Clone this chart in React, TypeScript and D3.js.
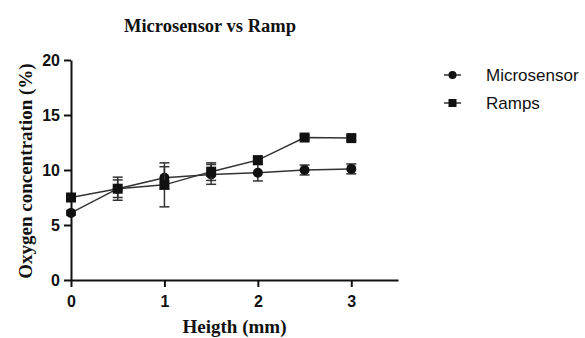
import { useEffect, useRef } from "react";
import * as d3 from "d3";

const heights = [0, 0.5, 1, 1.5, 2, 2.5, 3];
const microsensor = [6.1, 8.3, 9.3, 9.6, 9.75, 10.0, 10.1];
const microsensorErr = [0.2, 0.8, 1.0, 0.9, 0.75, 0.45, 0.45];
const ramps = [7.5, 8.3, 8.65, 9.85, 10.9, 12.95, 12.9];
const rampsErr = [0.2, 1.05, 2.0, 0.8, 0.2, 0.2, 0.2];
const yTicks = [0, 5, 10, 15, 20];
const xTicks = [0, 1, 2, 3];

const W = 585;
const H = 338;
const MARGIN = { top: 60, right: 187, bottom: 58, left: 71 };

interface Pt {
  x: number;
  y: number;
  e: number;
}

export default function App() {
  const svgRef = useRef<SVGSVGElement>(null);

  useEffect(() => {
    if (!svgRef.current) return;
    const svg = d3.select(svgRef.current);
    svg.selectAll("*").remove();

    const innerW = W - MARGIN.left - MARGIN.right;
    const innerH = H - MARGIN.top - MARGIN.bottom;

    const x = d3.scaleLinear().domain([0, 3.5]).range([0, innerW]);
    const y = d3.scaleLinear().domain([0, 20]).range([innerH, 0]);

    svg
      .append("rect")
      .attr("width", W)
      .attr("height", H)
      .attr("fill", "#fff");

    // Title
    svg
      .append("text")
      .attr("x", 210)
      .attr("y", 32)
      .attr("text-anchor", "middle")
      .attr("font-family", "'Liberation Serif', 'Times New Roman', serif")
      .attr("font-weight", "bold")
      .attr("font-size", "18.5px")
      .attr("fill", "#111")
      .text("Microsensor vs Ramp");

    const g = svg
      .append("g")
      .attr("transform", `translate(${MARGIN.left},${MARGIN.top})`);

    const tickFont = (sel: any) =>
      sel
        .selectAll(".tick text")
        .attr("fill", "#111")
        .attr("font-family", "'Liberation Sans', Arial, sans-serif")
        .attr("font-weight", "bold")
        .attr("font-size", "16px");

    // X axis
    g.append("g")
      .attr("transform", `translate(0,${innerH})`)
      .call(
        d3
          .axisBottom(x)
          .tickValues(xTicks)
          .tickFormat(d3.format("d"))
          .tickSize(7)
          .tickSizeOuter(0)
          .tickPadding(9)
      )
      .call((sel) => sel.select(".domain").attr("stroke", "#111").attr("stroke-width", 2))
      .call((sel) => sel.selectAll(".tick line").attr("stroke", "#111").attr("stroke-width", 2))
      .call(tickFont);

    // Y axis
    g.append("g")
      .call(
        d3
          .axisLeft(y)
          .tickValues(yTicks)
          .tickFormat(d3.format("d"))
          .tickSize(7)
          .tickSizeOuter(0)
          .tickPadding(4)
      )
      .call((sel) => sel.select(".domain").attr("stroke", "#111").attr("stroke-width", 2))
      .call((sel) => sel.selectAll(".tick line").attr("stroke", "#111").attr("stroke-width", 2))
      .call(tickFont);

    // Axis labels
    g.append("text")
      .attr("x", innerW / 2)
      .attr("y", innerH + 53)
      .attr("text-anchor", "middle")
      .attr("font-family", "'Liberation Serif', 'Times New Roman', serif")
      .attr("font-weight", "bold")
      .attr("font-size", "19px")
      .attr("fill", "#111")
      .text("Heigth (mm)");

    g.append("text")
      .attr("transform", "rotate(-90)")
      .attr("x", -innerH / 2 - 1)
      .attr("y", -39)
      .attr("text-anchor", "middle")
      .attr("font-family", "'Liberation Serif', 'Times New Roman', serif")
      .attr("font-weight", "bold")
      .attr("font-size", "19px")
      .attr("fill", "#111")
      .text("Oxygen concentration (%)");

    const series = [
      { name: "Microsensor", vals: microsensor, errs: microsensorErr, shape: "circle" },
      { name: "Ramps", vals: ramps, errs: rampsErr, shape: "square" },
    ];

    const line = d3
      .line<Pt>()
      .x((d) => x(d.x))
      .y((d) => y(d.y));

    series.forEach((s) => {
      const pts: Pt[] = heights.map((h, i) => ({ x: h, y: s.vals[i], e: s.errs[i] }));
      const sg = g.append("g");

      // error bars
      pts.forEach((p) => {
        const cx = x(p.x);
        const y1 = y(p.y + p.e);
        const y2 = y(p.y - p.e);
        sg.append("line")
          .attr("x1", cx)
          .attr("x2", cx)
          .attr("y1", y1)
          .attr("y2", y2)
          .attr("stroke", "#333")
          .attr("stroke-width", 1.5);
        [y1, y2].forEach((yy) =>
          sg
            .append("line")
            .attr("x1", cx - 5)
            .attr("x2", cx + 5)
            .attr("y1", yy)
            .attr("y2", yy)
            .attr("stroke", "#333")
            .attr("stroke-width", 1.5)
        );
      });

      sg.append("path")
        .datum(pts)
        .attr("d", line)
        .attr("fill", "none")
        .attr("stroke", "#333")
        .attr("stroke-width", 1.5);

      pts.forEach((p) => {
        if (s.shape === "circle") {
          sg.append("circle")
            .attr("cx", x(p.x))
            .attr("cy", y(p.y))
            .attr("r", 5)
            .attr("fill", "#111");
        } else {
          sg.append("rect")
            .attr("x", x(p.x) - 5)
            .attr("y", y(p.y) - 5)
            .attr("width", 10)
            .attr("height", 10)
            .attr("fill", "#111");
        }
      });
    });

    // Legend
    const legend = svg.append("g").attr("transform", "translate(444,75)");
    series.forEach((s, i) => {
      const ly = i * 28;
      legend
        .append("line")
        .attr("x1", 0)
        .attr("x2", 17)
        .attr("y1", ly)
        .attr("y2", ly)
        .attr("stroke", "#333")
        .attr("stroke-width", 1.5);
      if (s.shape === "circle") {
        legend.append("circle").attr("cx", 8.5).attr("cy", ly).attr("r", 4).attr("fill", "#111");
      } else {
        legend
          .append("rect")
          .attr("x", 4.5)
          .attr("y", ly - 4)
          .attr("width", 8)
          .attr("height", 8)
          .attr("fill", "#111");
      }
      legend
        .append("text")
        .attr("x", 42)
        .attr("y", ly + 6)
        .attr("font-family", "'Liberation Sans', Arial, sans-serif")
        .attr("font-size", "17px")
        .attr("fill", "#111")
        .text(s.name);
    });
  }, []);

  return (
    <svg
      ref={svgRef}
      width={W}
      height={H}
      style={{ position: "absolute", left: 0, top: 0 }}
    />
  );
}
